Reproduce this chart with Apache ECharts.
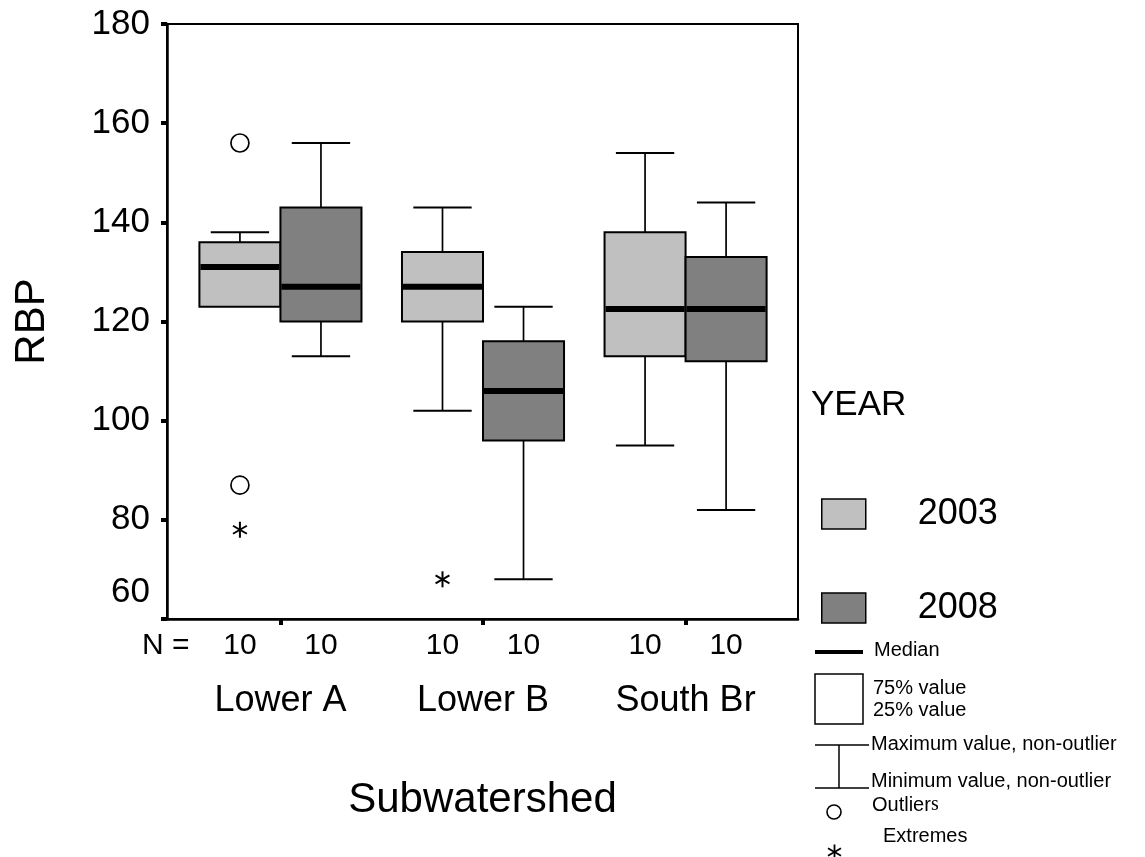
<!DOCTYPE html>
<html>
<head>
<meta charset="utf-8">
<script src="https://cdn.jsdelivr.net/npm/echarts@6/dist/echarts.min.js"></script>
<style>
html,body{margin:0;padding:0;background:#fff;}
#chart{width:1145px;height:857px;}
</style>
</head>
<body>
<div id="chart"></div>
<script>
// ---- data ----
const categories = ['Lower A', 'Lower B', 'South Br'];
const years = ['2003', '2008'];
// [min (non-outlier), Q1, median, Q3, max (non-outlier)] per category
const box2003 = [[123, 123, 131, 136, 138], [102, 120, 127, 134, 143], [95, 113, 122.5, 138, 154]];
const box2008 = [[113, 120, 127, 143, 156], [68, 96, 106, 116, 123], [82, 112, 122.5, 133, 144]];
// [category index, value]
const outliers2003 = [[0, 156], [0, 87]];
const outliers2008 = [];
const extremes2003 = [[0, 78], [1, 68]];
const extremes2008 = [];
const nCounts2003 = [10, 10, 10];
const nCounts2008 = [10, 10, 10];
const yMin = 60, yMax = 180, yStep = 20;

// ---- chart ----
const FONT = '"Liberation Sans", Arial, Helvetica, sans-serif';
const OFFSET = [-0.2, 0.2];      // position of each year within a category
const BOX_W = 0.4;               // box width in category units
const COLORS = ['#c0c0c0', '#808080'];

function xPos(catIdx, yearIdx) { return catIdx + 1 + OFFSET[yearIdx]; }

function boxRender(fill) {
  return function (params, api) {
    const x = api.value(0);
    const pMin = api.coord([x, api.value(1)]);
    const pQ1 = api.coord([x, api.value(2)]);
    const pMed = api.coord([x, api.value(3)]);
    const pQ3 = api.coord([x, api.value(4)]);
    const pMax = api.coord([x, api.value(5)]);
    const w = api.size([BOX_W, 0])[0];
    const cx = pMed[0];
    const cap = w * 0.36;
    const ch = [];
    const ls = { stroke: '#000', lineWidth: 1.7 };
    if (pMax[1] < pQ3[1] - 0.5) {
      ch.push({ type: 'line', shape: { x1: cx, y1: pQ3[1], x2: cx, y2: pMax[1] }, style: ls });
      ch.push({ type: 'line', shape: { x1: cx - cap, y1: pMax[1], x2: cx + cap, y2: pMax[1] }, style: { stroke: '#000', lineWidth: 2 } });
    }
    if (pMin[1] > pQ1[1] + 0.5) {
      ch.push({ type: 'line', shape: { x1: cx, y1: pQ1[1], x2: cx, y2: pMin[1] }, style: ls });
      ch.push({ type: 'line', shape: { x1: cx - cap, y1: pMin[1], x2: cx + cap, y2: pMin[1] }, style: { stroke: '#000', lineWidth: 2 } });
    }
    ch.push({ type: 'rect', shape: { x: cx - w / 2, y: pQ3[1], width: w, height: pQ1[1] - pQ3[1] },
      style: { fill: fill, stroke: '#000', lineWidth: 2 } });
    ch.push({ type: 'line', shape: { x1: cx - w / 2 + 1, y1: pMed[1], x2: cx + w / 2 - 1, y2: pMed[1] },
      style: { stroke: '#000', lineWidth: 6 } });
    return { type: 'group', children: ch };
  };
}

function asteriskShapes(cx, cy, r, lw) {
  const out = [];
  for (let k = 0; k < 3; k++) {
    const a = Math.PI / 2 + k * Math.PI / 3;
    out.push({ type: 'line', shape: { x1: cx - r * Math.cos(a), y1: cy - r * Math.sin(a), x2: cx + r * Math.cos(a), y2: cy + r * Math.sin(a) },
      style: { stroke: '#000', lineWidth: lw } });
  }
  return out;
}

function extremeRender(params, api) {
  const p = api.coord([api.value(0), api.value(1)]);
  return { type: 'group', children: asteriskShapes(p[0], p[1], 8, 2) };
}

const boxes = [box2003, box2008];
const outs = [outliers2003, outliers2008];
const exts = [extremes2003, extremes2008];
const nCounts = [nCounts2003, nCounts2008];

const series = [];
years.forEach((yr, yi) => {
  series.push({
    name: yr, type: 'custom', renderItem: boxRender(COLORS[yi]), clip: false,
    encode: { x: 0, y: [1, 2, 3, 4, 5] },
    itemStyle: { color: COLORS[yi] },
    data: boxes[yi].map((s, ci) => [xPos(ci, yi)].concat(s)),
    z: 2
  });
});
years.forEach((yr, yi) => {
  series.push({
    name: 'Outliers ' + yr, type: 'scatter', symbol: 'circle', symbolSize: 18,
    itemStyle: { color: '#fff', borderColor: '#000', borderWidth: 1.7, opacity: 1 },
    data: outs[yi].map(d => [xPos(d[0], yi), d[1]]), z: 3
  });
  series.push({
    name: 'Extremes ' + yr, type: 'custom', renderItem: extremeRender, clip: false,
    encode: { x: 0, y: 1 },
    data: exts[yi].map(d => [xPos(d[0], yi), d[1]]), z: 3
  });
});

// N labels positions
const nLabels = [];
categories.forEach((c, ci) => years.forEach((y, yi) => nLabels.push({ pos: xPos(ci, yi), n: nCounts[yi][ci] })));
const catValues = categories.map((c, i) => i + 1);

const X_MIN = 0.44, X_MAX = 3.555;

const asterLegend = asteriskShapes(834.5, 852, 7.5, 1.8);

const option = {
  backgroundColor: '#fff',
  animation: false,
  grid: { left: 167, right: 347, top: 24, bottom: 238, show: true, borderColor: '#000', borderWidth: 2 },
  xAxis: [{
    type: 'value', min: X_MIN, max: X_MAX, position: 'bottom',
    axisLine: { show: true, onZero: false, lineStyle: { color: '#000', width: 2.5 } },
    axisTick: { show: true, customValues: catValues, length: 6, lineStyle: { color: '#000', width: 4 } },
    axisLabel: { customValues: catValues, margin: 64, color: '#000', fontSize: 36, fontFamily: FONT,
      formatter: v => categories[Math.round(v) - 1] || '' },
    splitLine: { show: false },
    name: 'Subwatershed', nameLocation: 'middle', nameGap: 160,
    nameTextStyle: { fontSize: 42, color: '#000', fontFamily: FONT }
  }, {
    type: 'value', min: X_MIN, max: X_MAX, position: 'bottom', gridIndex: 0,
    axisLine: { show: false }, axisTick: { show: false }, splitLine: { show: false },
    axisLabel: { customValues: nLabels.map(d => d.pos), margin: 12, color: '#000', fontSize: 30, fontFamily: FONT,
      formatter: v => { let best = nLabels[0]; nLabels.forEach(d => { if (Math.abs(d.pos - v) < Math.abs(best.pos - v)) best = d; }); return String(best.n); } }
  }],
  yAxis: {
    type: 'value', min: yMin, max: yMax, interval: yStep,
    axisLine: { show: true, lineStyle: { color: '#000', width: 2.5 } },
    axisTick: { show: true, length: 6, lineStyle: { color: '#000', width: 4 } },
    axisLabel: { margin: 17, color: '#000', fontSize: 35, fontFamily: FONT,
      formatter: v => v === yMin ? '{low|' + v + '}' : String(v),
      rich: { low: { fontSize: 35, fontFamily: FONT, color: '#000', padding: [0, 0, 54, 0] } } },
    splitLine: { show: false },
    name: 'RBP', nameLocation: 'middle', nameGap: 114,
    nameTextStyle: { fontSize: 42, color: '#000', fontFamily: FONT }
  },
  legend: {
    orient: 'vertical', left: 816, top: 491, itemWidth: 44, itemHeight: 30, itemGap: 58,
    selectedMode: false,
    textStyle: { fontSize: 36, color: '#000', fontFamily: FONT, padding: [0, 0, 0, 47] },
    data: years.map((y, i) => ({ name: y, icon: 'rect', itemStyle: { color: COLORS[i], borderColor: '#000', borderWidth: 1.5 } }))
  },
  graphic: [
    { type: 'text', x: 811, y: 405, style: { text: 'YEAR', font: '35px ' + FONT, fill: '#000', verticalAlign: 'middle' } },
    { type: 'text', x: 142, y: 646, style: { text: 'N =', font: '30px ' + FONT, fill: '#000', verticalAlign: 'middle' } },
    { type: 'line', shape: { x1: 815, y1: 652, x2: 863, y2: 652 }, style: { stroke: '#000', lineWidth: 4 } },
    { type: 'text', x: 874, y: 650, style: { text: 'Median', font: '20px ' + FONT, fill: '#000', verticalAlign: 'middle' } },
    { type: 'rect', shape: { x: 815, y: 674, width: 48, height: 50 }, style: { fill: '#fff', stroke: '#000', lineWidth: 1.5 } },
    { type: 'text', x: 873, y: 688, style: { text: '75% value', font: '20px ' + FONT, fill: '#000', verticalAlign: 'middle' } },
    { type: 'text', x: 873, y: 710, style: { text: '25% value', font: '20px ' + FONT, fill: '#000', verticalAlign: 'middle' } },
    { type: 'line', shape: { x1: 815, y1: 745, x2: 869, y2: 745 }, style: { stroke: '#000', lineWidth: 1.5 } },
    { type: 'line', shape: { x1: 839, y1: 745, x2: 839, y2: 788 }, style: { stroke: '#000', lineWidth: 1.5 } },
    { type: 'line', shape: { x1: 815, y1: 788, x2: 869, y2: 788 }, style: { stroke: '#000', lineWidth: 1.5 } },
    { type: 'text', x: 871, y: 744, style: { text: 'Maximum value, non-outlier', font: '20px ' + FONT, fill: '#000', verticalAlign: 'middle' } },
    { type: 'text', x: 871, y: 781, style: { text: 'Minimum value, non-outlier', font: '20px ' + FONT, fill: '#000', verticalAlign: 'middle' } },
    { type: 'circle', shape: { cx: 834, cy: 812, r: 7 }, style: { fill: '#fff', stroke: '#000', lineWidth: 1.6 } },
    { type: 'text', x: 872, y: 805, style: { text: '{a|Outlier}{b|s}', fill: '#000', verticalAlign: 'middle',
      rich: { a: { font: '20px ' + FONT, fill: '#000' }, b: { font: '20px "Liberation Serif", "Times New Roman", serif', fill: '#000' } } } },
    { type: 'group', children: asterLegend },
    { type: 'text', x: 883, y: 836, style: { text: 'Extremes', font: '20px ' + FONT, fill: '#000', verticalAlign: 'middle' } }
  ],
  series: series
};

const chart = echarts.init(document.getElementById('chart'), null, { renderer: 'canvas' });
chart.setOption(option);
</script>
</body>
</html>
